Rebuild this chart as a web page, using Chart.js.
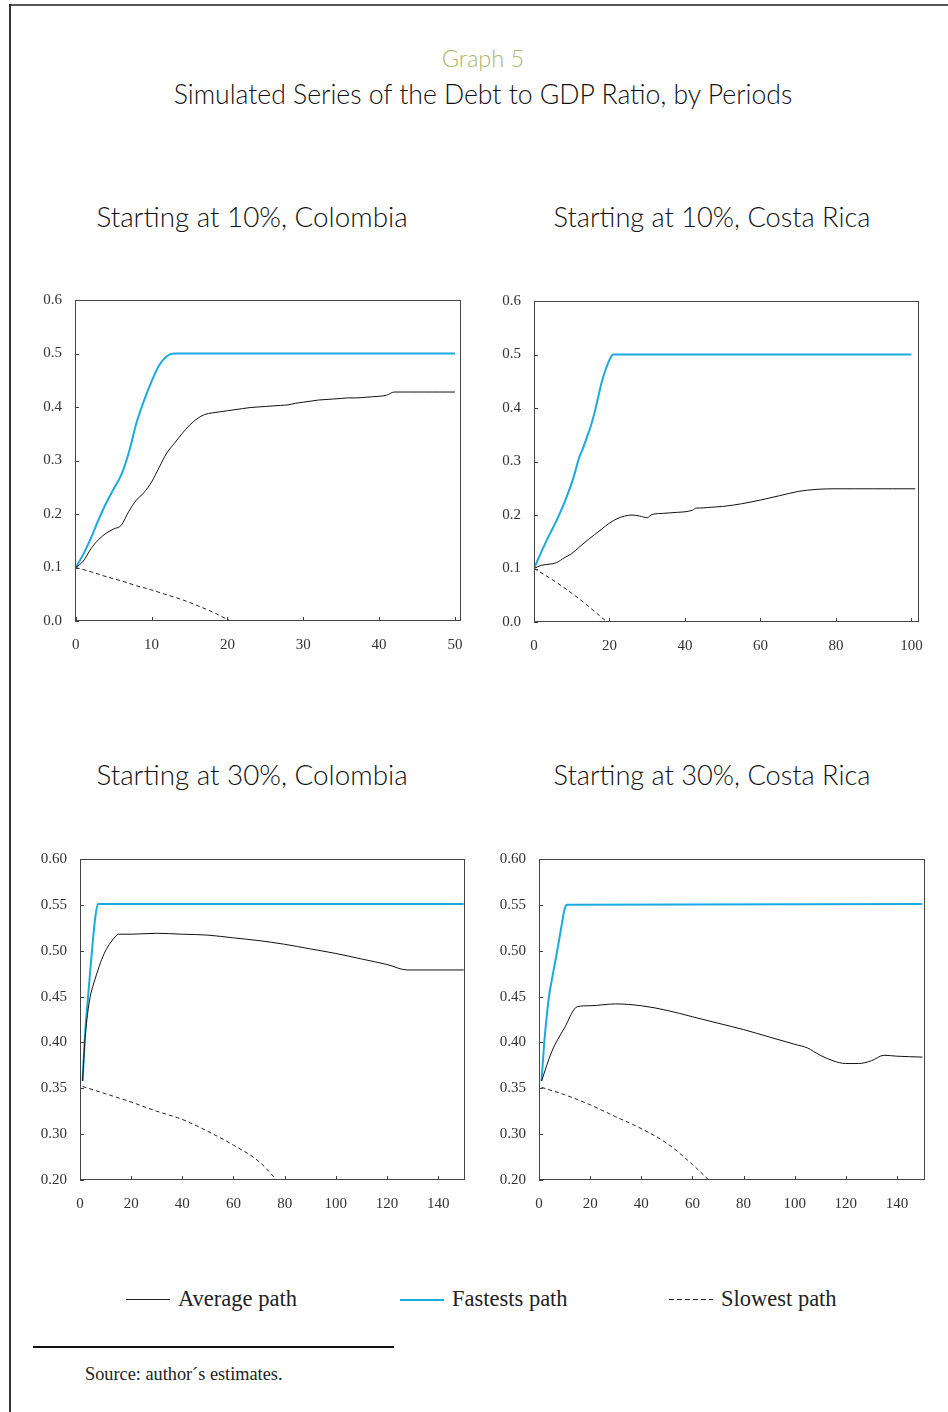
<!DOCTYPE html>
<html>
<head>
<meta charset="utf-8">
<script src="https://cdn.jsdelivr.net/npm/chart.js@4.4.1/dist/chart.umd.min.js"></script>
<style>
  body { margin: 0; background: #fff; }
  #page { position: relative; width: 948px; height: 1412px; overflow: hidden; }
  .t { position: absolute; white-space: nowrap; text-align: center; font-family: Lato, sans-serif; font-weight: 300; color: #111; }
  .box { position: absolute; }
  .leg { position: absolute; font-family: "Liberation Serif", serif; font-size: 22.5px; color: #222; line-height: 26px; }
  .leg i { display: inline-block; width: 44px; vertical-align: middle; margin-right: 8px; position: relative; top: -1px; }
</style>
</head>
<body>
<div id="page">
  <div style="position:absolute;left:9px;top:4px;right:0;height:2px;background:#555"></div>
  <div style="position:absolute;left:9px;top:4px;bottom:0;width:2px;background:#333"></div>

  <div class="t" style="left:283px;width:400px;top:43px;font-size:23.5px;line-height:30px;color:#a9b86a">Graph 5</div>
  <div class="t" style="left:83px;width:800px;top:78px;font-size:26.6px;line-height:32px">Simulated Series of the Debt to GDP Ratio, by Periods</div>

  <div class="t" style="left:52px;width:400px;top:201px;font-size:27.8px;line-height:32px">Starting at 10%, Colombia</div>
  <div class="t" style="left:512px;width:400px;top:201px;font-size:27.2px;line-height:32px">Starting at 10%, Costa Rica</div>
  <div class="t" style="left:52px;width:400px;top:759px;font-size:27.8px;line-height:32px">Starting at 30%, Colombia</div>
  <div class="t" style="left:512px;width:400px;top:759px;font-size:27.2px;line-height:32px">Starting at 30%, Costa Rica</div>

  <div class="box" id="b1"><canvas id="c1"></canvas></div>
  <div class="box" id="b2"><canvas id="c2"></canvas></div>
  <div class="box" id="b3"><canvas id="c3"></canvas></div>
  <div class="box" id="b4"><canvas id="c4"></canvas></div>

  <div class="leg" style="left:126px;top:1286px"><i style="border-top:1px solid #222"></i>Average path</div>
  <div class="leg" style="left:400px;top:1286px"><i style="border-top:2px solid #1ba9e1"></i>Fastests path</div>
  <div class="leg" style="left:669px;top:1286px"><i style="height:1px;background:repeating-linear-gradient(to right,#222 0 5px,transparent 5px 8px)"></i>Slowest path</div>

  <div style="position:absolute;left:33px;top:1346px;width:361px;height:2px;background:#111"></div>
  <div style="position:absolute;left:85px;top:1364px;font-family:'Liberation Serif',serif;font-size:18.3px;color:#222">Source: author´s estimates.</div>
</div>

<script>
// Colombia, starting at 10%
const col10AvgT = [0,1,2,3,4,5,6,7,8,9,10,11,12,13,14,15,16,17,18,19,20,21,22,23,24,25,26,27,28,29,30,31,32,33,34,35,36,37,38,39,40,41,42,43,44,45,46,47,48,49,50];
const col10Avg = [0.100,0.112,0.135,0.152,0.164,0.172,0.179,0.205,0.226,0.240,0.260,0.287,0.314,0.332,0.350,0.366,0.378,0.386,0.389,0.391,0.393,0.395,0.397,0.399,0.400,0.401,0.402,0.403,0.404,0.407,0.409,0.411,0.413,0.414,0.415,0.416,0.417,0.417,0.418,0.419,0.420,0.422,0.428,0.428,0.428,0.428,0.428,0.428,0.428,0.428,0.428];
const col10FastT = [0,1,2,3,4,5,6,7,8,9,10,11,12,13,50];
const col10Fast = [0.100,0.125,0.155,0.189,0.220,0.247,0.273,0.315,0.370,0.412,0.448,0.478,0.495,0.500,0.500];
const col10SlowT = [0,2,4,6,8,10,12,14,16,18,20,21];
const col10Slow = [0.100,0.092,0.083,0.075,0.066,0.058,0.049,0.040,0.029,0.017,0.003,-0.004];

// Costa Rica, starting at 10%
const cr10AvgT = [0,2,4,6,8,10,12,14,16,18,20,22,24,26,28,30,31,32,34,36,38,40,42,43,44,46,48,50,55,60,65,70,75,80,85,90,95,101];
const cr10Avg = [0.100,0.106,0.108,0.111,0.120,0.128,0.140,0.152,0.163,0.174,0.185,0.193,0.198,0.200,0.198,0.195,0.200,0.202,0.203,0.204,0.205,0.206,0.209,0.213,0.213,0.214,0.215,0.216,0.221,0.228,0.236,0.244,0.248,0.249,0.249,0.249,0.249,0.249];
const cr10FastT = [0,2,4,6,8,10,11,12,13,14,15,16,17,18,19,20,21,100];
const cr10Fast = [0.100,0.132,0.162,0.190,0.222,0.260,0.283,0.308,0.325,0.345,0.365,0.390,0.420,0.450,0.472,0.490,0.500,0.500];
const cr10SlowT = [0,4,8,12,16,20];
const cr10Slow = [0.100,0.083,0.064,0.043,0.020,-0.004];

// Colombia, starting at 30%
const col30AvgT = [1,2,3,4,5,6,8,10,12,14,15,20,30,40,50,60,70,80,90,100,110,120,128,150];
const col30Avg = [0.358,0.405,0.432,0.450,0.461,0.470,0.487,0.500,0.509,0.516,0.518,0.518,0.519,0.518,0.517,0.514,0.511,0.507,0.502,0.497,0.491,0.485,0.479,0.479];
const col30FastT = [1,2,3,4,5,6,7,150];
const col30Fast = [0.358,0.410,0.445,0.478,0.510,0.537,0.551,0.551];
const col30SlowT = [1,10,20,30,40,50,60,70,80];
const col30Slow = [0.352,0.344,0.335,0.325,0.316,0.303,0.288,0.270,0.240];

// Costa Rica, starting at 30%
const cr30AvgT = [1,5,10,15,20,30,40,50,60,70,80,90,100,105,110,115,120,125,130,135,140,150];
const cr30Avg = [0.358,0.390,0.416,0.439,0.440,0.442,0.440,0.435,0.428,0.421,0.414,0.406,0.398,0.394,0.386,0.380,0.377,0.377,0.380,0.386,0.385,0.384];
const cr30FastT = [1,2,3,4,5,6,7,8,9,10,11,150];
const cr30Fast = [0.358,0.398,0.428,0.452,0.468,0.483,0.498,0.514,0.530,0.545,0.550,0.551];
const cr30SlowT = [1,10,20,30,40,50,60,70];
const cr30Slow = [0.351,0.343,0.332,0.319,0.306,0.290,0.267,0.240];

// bottom panels: axis runs 0.25-0.60 but the lowest tick is printed as 0.20
const lowTickLabel = '0.20';

Chart.defaults.font.family = "'Liberation Serif', serif";
Chart.defaults.font.size = 15;
Chart.defaults.color = '#333';

const pts = (xs, ys) => xs.map((x, i) => ({ x: x, y: ys[i] }));

const frame = {
  id: 'frame',
  afterDatasetsDraw(chart) {
    const { ctx, chartArea: a, scales } = chart;
    ctx.save();
    ctx.strokeStyle = '#444';
    ctx.lineWidth = 1;
    ctx.strokeRect(a.left + 0.5, a.top + 0.5, a.right - a.left - 1, a.bottom - a.top - 1);
    ctx.beginPath();
    scales.x.ticks.forEach(t => {
      const px = Math.round(scales.x.getPixelForValue(t.value)) + 0.5;
      ctx.moveTo(px, a.bottom); ctx.lineTo(px, a.bottom - 4);
    });
    scales.y.ticks.forEach(t => {
      const py = Math.round(scales.y.getPixelForValue(t.value)) + 0.5;
      ctx.moveTo(a.left, py); ctx.lineTo(a.left + 4, py);
    });
    ctx.stroke();
    ctx.restore();
  }
};

function panel(id, area, series, xopt, yopt) {
  const box = document.getElementById('b' + id);
  box.style.left = (area[0] - 55) + 'px';
  box.style.top = (area[1] - 15) + 'px';
  box.style.width = (area[2] - area[0] + 70) + 'px';
  box.style.height = (area[3] - area[1] + 55) + 'px';
  new Chart(document.getElementById('c' + id), {
    type: 'line',
    data: {
      datasets: [
        { data: pts(series[0][0], series[0][1]), borderColor: '#111', borderWidth: 1, cubicInterpolationMode: 'monotone' },
        { data: pts(series[1][0], series[1][1]), borderColor: '#1ba9e1', borderWidth: 2, cubicInterpolationMode: 'monotone' },
        { data: pts(series[2][0], series[2][1]), borderColor: '#222', borderWidth: 1, borderDash: [4, 3], cubicInterpolationMode: 'monotone' }
      ]
    },
    options: {
      responsive: true,
      maintainAspectRatio: false,
      animation: false,
      events: [],
      elements: { point: { radius: 0 } },
      layout: { padding: { top: 15, right: 15, left: 0, bottom: 0 } },
      plugins: { legend: { display: false }, tooltip: { enabled: false } },
      scales: {
        x: {
          type: 'linear',
          min: xopt.min, max: xopt.max,
          grid: { display: false, drawTicks: false },
          border: { display: false },
          ticks: { stepSize: xopt.step, includeBounds: false, padding: 15, maxRotation: 0 },
          afterFit: s => { s.height = 40; s.paddingLeft = 0; s.paddingRight = 0; }
        },
        y: {
          min: yopt.min, max: yopt.max,
          grid: { display: false, drawTicks: false },
          border: { display: false },
          ticks: { stepSize: yopt.step, includeBounds: false, padding: 13, callback: yopt.fmt },
          afterFit: s => { s.width = 55; s.paddingTop = 0; s.paddingBottom = 0; }
        }
      }
    },
    plugins: [frame]
  });
}

const fmt1 = v => v.toFixed(1);
const fmt2 = v => Math.abs(v - 0.25) < 1e-6 ? lowTickLabel : v.toFixed(2);

panel(1, [75, 300, 461, 621],
  [[col10AvgT, col10Avg], [col10FastT, col10Fast], [col10SlowT, col10Slow]],
  { min: -0.1, max: 50.8, step: 10 }, { min: 0, max: 0.6, step: 0.1, fmt: fmt1 });
panel(2, [534, 301, 919, 622],
  [[cr10AvgT, cr10Avg], [cr10FastT, cr10Fast], [cr10SlowT, cr10Slow]],
  { min: 0, max: 102, step: 20 }, { min: 0, max: 0.6, step: 0.1, fmt: fmt1 });
panel(3, [80, 859, 465, 1180],
  [[col30AvgT, col30Avg], [col30FastT, col30Fast], [col30SlowT, col30Slow]],
  { min: 0, max: 150.5, step: 20 }, { min: 0.25, max: 0.6, step: 0.05, fmt: fmt2 });
panel(4, [539, 859, 925, 1180],
  [[cr30AvgT, cr30Avg], [cr30FastT, cr30Fast], [cr30SlowT, cr30Slow]],
  { min: 0, max: 151, step: 20 }, { min: 0.25, max: 0.6, step: 0.05, fmt: fmt2 });
</script>
</body>
</html>
